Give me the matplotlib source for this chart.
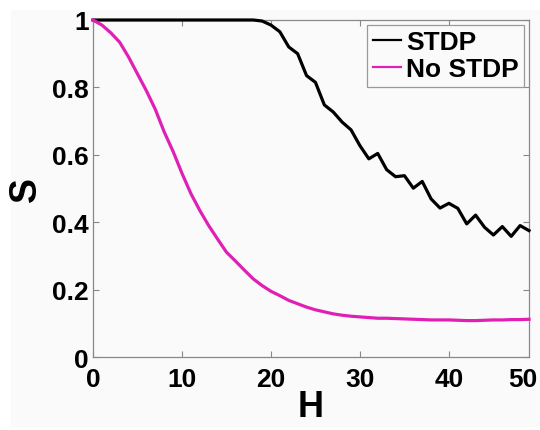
import matplotlib
matplotlib.use("Agg")
import matplotlib.pyplot as plt
from matplotlib.patches import Rectangle
import matplotlib.transforms as mtransforms

H = list(range(0, 50))
stdp = [1.0]*19 + [0.997, 0.985, 0.965, 0.92, 0.90, 0.835, 0.815, 0.748, 0.727, 0.697, 0.674,
                   0.627, 0.588, 0.604, 0.556, 0.535, 0.538, 0.501, 0.521, 0.469, 0.442,
                   0.456, 0.441, 0.395, 0.421, 0.385, 0.362, 0.387, 0.358, 0.390, 0.375]
no_stdp = [1.0, 0.985, 0.962, 0.934, 0.89, 0.84, 0.79, 0.735, 0.668, 0.61,
           0.545, 0.485, 0.435, 0.39, 0.35, 0.311, 0.285, 0.258, 0.232, 0.212,
           0.195, 0.182, 0.168, 0.158, 0.148, 0.14, 0.134, 0.128, 0.124, 0.121,
           0.119, 0.117, 0.115, 0.115, 0.114, 0.113, 0.112, 0.111, 0.110, 0.110,
           0.110, 0.109, 0.108, 0.108, 0.109, 0.110, 0.110, 0.111, 0.111, 0.112]
series_labels = ["STDP", "No STDP"]
xticks = [0, 10, 20, 30, 40]
xtick_labels = ["0", "10", "20", "30", "40", "50"]
yticks = [0, 0.2, 0.4, 0.6, 0.8, 1]
ytick_labels = ["0", "0.2", "0.4", "0.6", "0.8", "1"]

plt.rcParams['font.family'] = ['Liberation Sans', 'DejaVu Sans']
plt.rcParams['font.weight'] = 'bold'

fig = plt.figure(figsize=(5.4, 4.31), dpi=100, facecolor='white')
fig.patches.append(Rectangle((11/540, 1-428/431), 1-11/540, (428-11)/431,
                             transform=fig.transFigure, facecolor='#fafafa',
                             edgecolor='none', zorder=-10))
ax = fig.add_axes([93/540, 1-358/431, (529-93)/540, (358-21)/431])
ax.set_facecolor('#fafafa')

ax.plot(H, stdp, color='black', lw=2.3, label=series_labels[0], clip_on=False, zorder=3)
ax.plot(H, no_stdp, color='#e01fb5', lw=2.3, label=series_labels[1], clip_on=False, zorder=3)

ax.set_xlim(0, 49)
ax.set_ylim(0, 1)
ax.set_xticks(xticks)
ax.set_xticklabels(xtick_labels[:len(xticks)])
ax.set_yticks(yticks)
ax.set_yticklabels(ytick_labels)
ax.tick_params(direction='in', length=4, width=0.8, color='#888888',
               top=True, right=True, labelsize=19)
ax.tick_params(axis='x', pad=7)
ax.tick_params(axis='y', pad=3)
for lab in ax.get_xticklabels() + ax.get_yticklabels():
    lab.set_fontweight('bold')
for s in ax.spines.values():
    s.set_color('#888888')
    s.set_linewidth(0.9)

# last x tick label sits at the right edge of the figure, as in the reference
trans = mtransforms.blended_transform_factory(ax.transData, ax.transAxes)
ax.text(48.3, 0, xtick_labels[-1], ha='center', va='top', fontsize=19,
        fontweight='bold', clip_on=False,
        transform=trans + mtransforms.ScaledTranslation(0, -7/72, fig.dpi_scale_trans))

ax.set_xlabel('H', fontsize=26, fontweight='bold', labelpad=-1)
ax.set_ylabel('S', fontsize=27, fontweight='bold', labelpad=6)

leg = ax.legend(loc='upper right', handlelength=1.06, handletextpad=0.2,
                borderpad=0.2, labelspacing=0.12, borderaxespad=0.19,
                fancybox=False, framealpha=1, prop={'weight': 'bold', 'size': 19})
leg.get_frame().set_edgecolor('#999999')
leg.get_frame().set_facecolor('#fafafa')
leg.get_frame().set_linewidth(0.9)
for l in leg.get_lines():
    l.set_linewidth(1.6)

fig.savefig('out.png', dpi=100, facecolor=fig.get_facecolor())
